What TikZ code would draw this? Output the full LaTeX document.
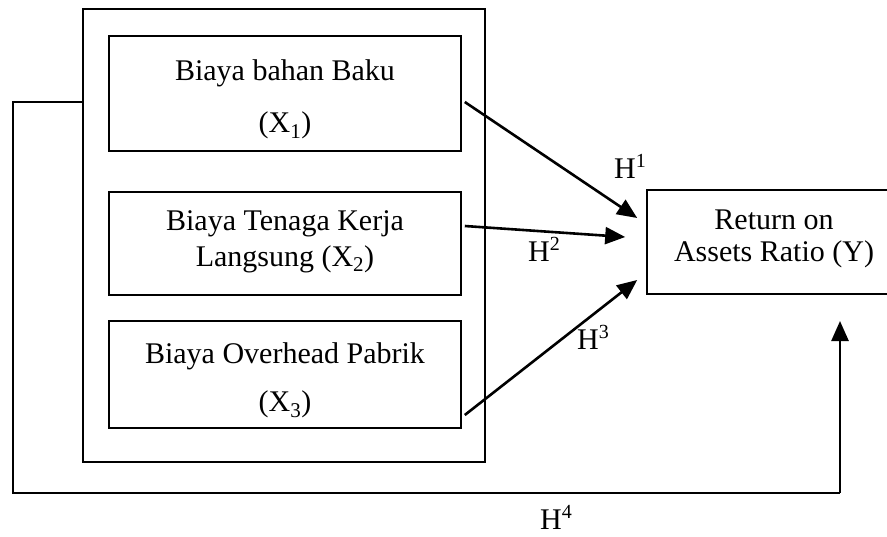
\documentclass[tikz,border=0pt]{standalone}
\usepackage{fontspec}
\setmainfont{Liberation Serif}
\usetikzlibrary{arrows.meta,calc}
\newcommand{\hsup}[1]{H\raisebox{11pt}{\fontsize{20}{20}\selectfont #1}}
\begin{document}
\begin{tikzpicture}[x=1pt,y=-1pt,
  frame/.style={draw=black,line width=1.6pt},
  varbox/.style={frame,minimum width=352pt,inner sep=0pt},
  txt/.style={inner sep=0pt,align=center,font=\fontsize{30}{30}\selectfont},
  link/.style={line width=2.6pt,-{Triangle[length=20pt,width=17pt]}},
  hyp/.style={font=\fontsize{30}{30}\selectfont,inner sep=0pt}]
\useasboundingbox (0,0) rectangle (887,536);
% group of cost variables
\node[frame,minimum width=402pt,minimum height=453pt,inner sep=0pt] (grp) at (284,235.5) {};
\node[varbox,minimum height=115pt] (x1) at (285,93.5) {};
\node[varbox,minimum height=103pt] (x2) at (285,243.5) {};
\node[varbox,minimum height=107pt] (x3) at (285,374.5) {};
\node[txt] (x1t) at ($(x1)+(0,6)$) {Biaya bahan Baku\\[22pt](X\textsubscript{1})};
\node[txt] (x2t) at ($(x2)+(0,-2)$) {Biaya Tenaga Kerja\\[6pt]Langsung (X\textsubscript{2})};
\node[txt] (x3t) at ($(x3)+(0,6)$) {Biaya Overhead Pabrik\\[18pt](X\textsubscript{3})};
% dependent variable (runs past the right edge)
\node[frame,minimum width=254pt,minimum height=104pt,inner sep=0pt] (y) at (774,242) {};
\node[txt] (yt) at ($(y)+(0,-3)$) {Return on\\[2pt]Assets Ratio (Y)};
% arrow end points
\coordinate (s1) at ($(x1.east)+(3,8.5)$);
\coordinate (e1) at ($(y.west)+(-9,-24)$);
\coordinate (s2) at ($(x2.east)+(3,-17.5)$);
\coordinate (e2) at ($(y.west)+(-21,-5)$);
\coordinate (s3) at ($(x3.east)+(3,40.5)$);
\coordinate (e3) at ($(y.west)+(-9,38)$);
\draw[link] (s1) -- (e1);
\draw[link] (s2) -- (e2);
\draw[link] (s3) -- (e3);
% feedback path from the group to Y
\coordinate (f0) at (grp.west |- 0,102);
\coordinate (fL) at (13,102);
\coordinate (fB) at (13,493);
\coordinate (fR) at (840,493);
\coordinate (fT) at (840,321);
\draw[line width=1.6pt] (f0) -- (fL) -- (fB) -- (fR);
\draw[link] (fR) -- (fT);
% hypothesis labels
\node[hyp] (h1) at (630,166) {\hsup{1}};
\node[hyp] (h2) at (544,249) {\hsup{2}};
\node[hyp] (h3) at (593,337) {\hsup{3}};
\node[hyp] (h4) at (556,517) {\hsup{4}};
\end{tikzpicture}
\end{document}
